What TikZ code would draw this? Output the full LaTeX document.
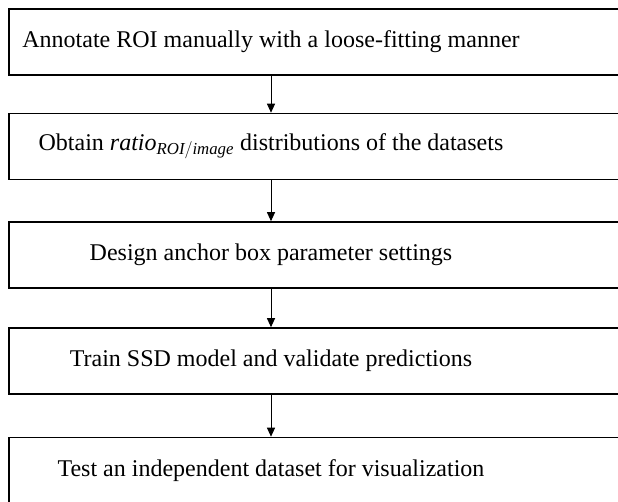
\documentclass[tikz,border=0pt]{standalone}
\usepackage{fontspec}
\setmainfont{Liberation Serif}
\usetikzlibrary{arrows.meta}

\tikzset{
  stepbox/.style={draw, line width=1.6, minimum width=624pt, minimum height=66pt, inner sep=0pt},
  steptext/.style={font=\fontsize{24}{28}\selectfont, xshift=-50pt},
  flow/.style={line width=1, -{Triangle[length=9pt,width=8pt]}}
}

\begin{document}
\begin{tikzpicture}[x=1pt, y=-1pt]
      \useasboundingbox (0, 0) rectangle (618, 502);
      \clip (0, 0) rectangle (618, 502);

      % steps
      \node[stepbox, label={[steptext]center:Annotate ROI manually with a loose-fitting manner}] (annotate) at (321, 42) {};
      \node[stepbox, label={[steptext]center:Obtain $\mathit{ratio}_{\mathit{ROI/image}}$ distributions of the datasets}] (ratio) at (321, 146.5) {};
      \node[stepbox, label={[steptext]center:Design anchor box parameter settings}] (anchor) at (321, 255) {};
      \node[stepbox, label={[steptext]center:Train SSD model and validate predictions}] (train) at (321, 361) {};
      \node[stepbox, label={[steptext]center:Test an independent dataset for visualization}] (test) at (321, 470.5) {};

      % arrows
      \coordinate (axis) at (271, 0);
      \draw[flow] (annotate.south -| axis) -- (ratio.north -| axis);
      \draw[flow] (ratio.south -| axis) -- (anchor.north -| axis);
      \draw[flow] (anchor.south -| axis) -- (train.north -| axis);
      \draw[flow] (train.south -| axis) -- (test.north -| axis);
\end{tikzpicture}
\end{document}
